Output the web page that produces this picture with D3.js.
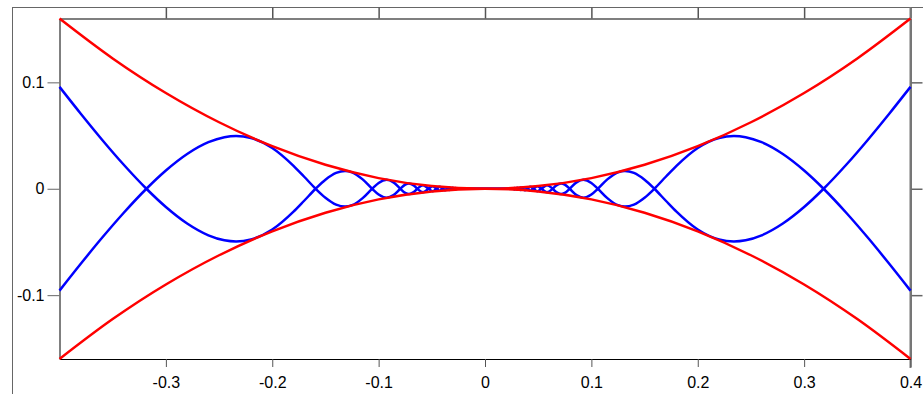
<!DOCTYPE html>
<html>
<head>
<meta charset="utf-8">
<script src="https://cdn.jsdelivr.net/npm/d3@7"></script>
<style>
  html, body { margin: 0; padding: 0; background: #fff; }
  svg { display: block; }
  text { font-family: "Liberation Sans", Arial, sans-serif; font-size: 16px; fill: #000; }
</style>
</head>
<body>
<svg id="chart" width="923" height="394"></svg>
<script>
// ---- data ----
const xTickValues = [-0.3, -0.2, -0.1, 0, 0.1, 0.2, 0.3, 0.4];
const xTickLabels = ["-0.3", "-0.2", "-0.1", "0", "0.1", "0.2", "0.3", "0.4"];
const yTickValues = [-0.1, 0, 0.1];
const yTickLabels = ["-0.1", "0", "0.1"];

// red envelope
const redX = [-0.4, -0.35, -0.3, -0.25, -0.2, -0.15, -0.1, -0.05, 0, 0.05, 0.1, 0.15, 0.2, 0.25, 0.3, 0.35, 0.4];
const redUpper = [0.16, 0.1225, 0.09, 0.0625, 0.04, 0.0225, 0.01, 0.0025, 0, 0.0025, 0.01, 0.0225, 0.04, 0.0625, 0.09, 0.1225, 0.16];
const redLower = [-0.16, -0.1225, -0.09, -0.0625, -0.04, -0.0225, -0.01, -0.0025, 0, -0.0025, -0.01, -0.0225, -0.04, -0.0625, -0.09, -0.1225, -0.16];

// blue oscillating curves
const blueX = [
  -0.40, -0.38, -0.36, -0.34, -0.3183, -0.30, -0.28, -0.26, -0.245, -0.234, -0.22, -0.20, -0.18, -0.17, -0.1592,
  -0.15, -0.14, -0.1316, -0.125, -0.115, -0.1061, -0.10, -0.0925, -0.086, -0.0796, -0.075, -0.07145, -0.067, -0.06366,
  -0.05826, -0.05305, -0.04921, -0.04547, -0.04259, -0.03979, -0.03755, -0.03537, -0.03358, -0.03183, -0.03037, -0.02894,
  -0.02772, -0.02653, 0,
  0.02653, 0.02772, 0.02894, 0.03037, 0.03183, 0.03358, 0.03537, 0.03755, 0.03979, 0.04259, 0.04547, 0.04921, 0.05305,
  0.05826, 0.06366, 0.067, 0.07145, 0.075, 0.0796, 0.086, 0.0925, 0.10, 0.1061, 0.115, 0.125, 0.1316, 0.14, 0.15,
  0.1592, 0.17, 0.18, 0.20, 0.22, 0.234, 0.245, 0.26, 0.28, 0.30, 0.3183, 0.34, 0.36, 0.38, 0.40
];
const blueA = [
  -0.09576, -0.07050, -0.04611, -0.02302, 0, 0.01715, 0.03267, 0.04377, 0.04848, 0.04957, 0.04773, 0.03836, 0.02155, 0.01128, 0,
  -0.00842, -0.01485, -0.01676, -0.01546, -0.00881, 0, 0.00544, 0.00841, 0.00597, 0, -0.00390, -0.00505, -0.00317, 0,
  0.00336, 0, -0.00240, 0, 0.00181, 0, -0.00141, 0, 0.00113, 0, -0.00092, 0,
  0.00077, 0, 0,
  0, -0.00077, 0, 0.00092, 0, -0.00113, 0, 0.00141, 0, -0.00181, 0, 0.00240, 0,
  -0.00336, 0, 0.00317, 0.00505, 0.00390, 0, -0.00597, -0.00841, -0.00544, 0, 0.00881, 0.01546, 0.01676, 0.01485, 0.00842,
  0, -0.01128, -0.02155, -0.03836, -0.04773, -0.04957, -0.04848, -0.04377, -0.03267, -0.01715, 0, 0.02302, 0.04611, 0.07050, 0.09576
];
const blueB = [
  0.09576, 0.07050, 0.04611, 0.02302, 0, -0.01715, -0.03267, -0.04377, -0.04848, -0.04957, -0.04773, -0.03836, -0.02155, -0.01128, 0,
  0.00842, 0.01485, 0.01676, 0.01546, 0.00881, 0, -0.00544, -0.00841, -0.00597, 0, 0.00390, 0.00505, 0.00317, 0,
  -0.00336, 0, 0.00240, 0, -0.00181, 0, 0.00141, 0, -0.00113, 0, 0.00092, 0,
  -0.00077, 0, 0,
  0, 0.00077, 0, -0.00092, 0, 0.00113, 0, -0.00141, 0, 0.00181, 0, -0.00240, 0,
  0.00336, 0, -0.00317, -0.00505, -0.00390, 0, 0.00597, 0.00841, 0.00544, 0, -0.00881, -0.01546, -0.01676, -0.01485, -0.00842,
  0, 0.01128, 0.02155, 0.03836, 0.04773, 0.04957, 0.04848, 0.04377, 0.03267, 0.01715, 0, -0.02302, -0.04611, -0.07050, -0.09576
];

// ---- drawing ----
(function () {
const svg = d3.select("#chart");
const mLeft = 59.5, mRight = 910.5, mTop = 18.5, mBottom = 359;
const x = d3.scaleLinear().domain([-0.4, 0.4]).range([mLeft, mRight]);
const y = d3.scaleLinear().domain([-0.16, 0.16]).range([mBottom, mTop]);

// outer frame lines
svg.append("line").attr("x1", 12.5).attr("x2", 12.5).attr("y1", 7).attr("y2", 394)
  .attr("stroke", "#666").attr("stroke-width", 1);
svg.append("line").attr("x1", 12).attr("x2", 923).attr("y1", 7.5).attr("y2", 7.5)
  .attr("stroke", "#666").attr("stroke-width", 1);

// top axis (mirror, no labels)
const topAxis = svg.append("g").attr("transform", `translate(0,${mTop})`)
  .call(d3.axisTop(x).tickValues(xTickValues).tickSize(11).tickSizeOuter(0).tickFormat(""));
topAxis.select(".domain").attr("stroke", "#555").attr("stroke-width", 1.5);
topAxis.selectAll(".tick line").attr("stroke", "#555").attr("stroke-width", 1.5);

// right axis (mirror, no labels)
const rightAxis = svg.append("g").attr("transform", `translate(${mRight},0)`)
  .call(d3.axisRight(y).tickValues(yTickValues).tickSize(12).tickSizeOuter(0).tickFormat(""));
rightAxis.select(".domain").attr("stroke", "#777").attr("stroke-width", 2);
rightAxis.selectAll(".tick line").attr("stroke", "#666").attr("stroke-width", 1.5);
svg.append("line").attr("x1", mRight).attr("x2", mRight).attr("y1", 7).attr("y2", 368)
  .attr("stroke", "#777").attr("stroke-width", 2);

// bottom axis
const bottomAxis = svg.append("g").attr("transform", `translate(0,${mBottom})`)
  .call(d3.axisBottom(x).tickValues(xTickValues).tickSize(8).tickSizeOuter(0).tickPadding(10)
    .tickFormat((d, i) => xTickLabels[i]));
bottomAxis.select(".domain").attr("stroke", "#000").attr("stroke-width", 1);
bottomAxis.selectAll(".tick line").attr("stroke", "#555").attr("stroke-width", 1);
bottomAxis.selectAll("text").attr("font-size", 16).attr("font-family", '"Liberation Sans", Arial, sans-serif').attr("fill", "#000");

// left axis
const leftAxis = svg.append("g").attr("transform", `translate(${mLeft},0)`)
  .call(d3.axisLeft(y).tickValues(yTickValues).tickSize(12).tickSizeOuter(0).tickPadding(3)
    .tickFormat((d, i) => yTickLabels[i]));
leftAxis.select(".domain").attr("stroke", "#000").attr("stroke-width", 1);
leftAxis.selectAll(".tick line").attr("stroke", "#666").attr("stroke-width", 1);
leftAxis.selectAll("text").attr("font-size", 16).attr("font-family", '"Liberation Sans", Arial, sans-serif').attr("fill", "#000");

// curves
const plot = svg.append("g");
const redLine = d3.line().x((d, i) => x(redX[i])).y(d => y(d)).curve(d3.curveCatmullRom.alpha(0.5));
const blueLine = d3.line().x((d, i) => x(blueX[i])).y(d => y(d)).curve(d3.curveMonotoneX);

plot.append("path").attr("d", blueLine(blueA)).attr("fill", "none").attr("stroke", "#0000ff").attr("stroke-width", 2.5);
plot.append("path").attr("d", blueLine(blueB)).attr("fill", "none").attr("stroke", "#0000ff").attr("stroke-width", 2.5);
plot.append("path").attr("d", redLine(redUpper)).attr("fill", "none").attr("stroke", "#ff0000").attr("stroke-width", 2.5);
plot.append("path").attr("d", redLine(redLower)).attr("fill", "none").attr("stroke", "#ff0000").attr("stroke-width", 2.5);
})();
</script>
</body>
</html>
